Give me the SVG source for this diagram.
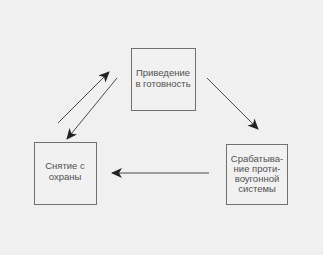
<svg xmlns="http://www.w3.org/2000/svg" width="323" height="255" viewBox="0 0 323 255">
<style>
.box{fill:#f0f1f0;stroke:#707070;stroke-width:1}
.t{font-family:"Liberation Sans","DejaVu Sans",sans-serif;font-size:9.5px;fill:#505050;text-anchor:middle}
.c{stroke:#4a4a4a;stroke-width:1;fill:none}
</style>
<defs>
<marker id="ah" markerWidth="12" markerHeight="10" refX="10" refY="5" orient="auto" markerUnits="userSpaceOnUse">
<path d="M0,0 L11,5 L0,10 L3,5 Z" fill="#222"/>
</marker>
</defs>
<rect width="323" height="255" fill="#eff0ef"/>
<g id="n1">
<rect class="box" x="131.5" y="48.5" width="64" height="62"/>
<text class="t" x="163" y="76">Приведение</text>
<text class="t" x="163" y="87">в готовность</text>
</g>
<g id="n2">
<rect class="box" x="226.5" y="144.5" width="61" height="60"/>
<text class="t" x="257" y="162">Срабатыва-</text>
<text class="t" x="257" y="172">ние проти-</text>
<text class="t" x="257" y="182">воугонной</text>
<text class="t" x="257" y="192">системы</text>
</g>
<g id="n3">
<rect class="box" x="34.5" y="142.5" width="62" height="62"/>
<text class="t" x="65" y="169">Снятие с</text>
<text class="t" x="65" y="180">охраны</text>
</g>
<g id="connectors">
<line class="c" x1="58" y1="123" x2="109" y2="72" marker-end="url(#ah)"/>
<line class="c" x1="117" y1="78" x2="67" y2="139" marker-end="url(#ah)"/>
<line class="c" x1="207" y1="78" x2="258" y2="129" marker-end="url(#ah)"/>
<line class="c" x1="209" y1="173" x2="112" y2="173" marker-end="url(#ah)"/>
</g>
</svg>
